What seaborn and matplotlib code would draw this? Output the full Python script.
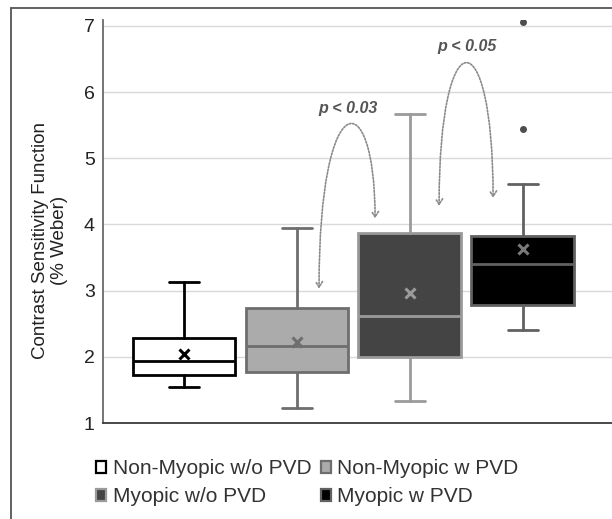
import matplotlib
matplotlib.use("Agg")
import matplotlib.pyplot as plt
import seaborn as sns
from matplotlib.patches import Patch, FancyArrowPatch
from matplotlib.path import Path
from matplotlib.lines import Line2D

# ---- data ----
groups = ["Non-Myopic w/o PVD", "Non-Myopic w PVD", "Myopic w/o PVD", "Myopic w PVD"]
whisker_low = [1.54, 1.22, 1.34, 2.41]
q1 = [1.73, 1.77, 2.00, 2.79]
medians = [1.94, 2.16, 2.62, 3.41]
q3 = [2.29, 2.74, 3.87, 3.83]
whisker_high = [3.13, 3.95, 5.67, 4.61]
means = [2.04, 2.23, 2.97, 3.63]
outliers = [[], [], [], [5.45, 7.06]]
y_ticks = [1, 2, 3, 4, 5, 6, 7]

# significance annotations
sig_labels = ["p < 0.03", "p < 0.05"]
sig_start = [(1.196, 3.03), (2.259, 4.28)]
sig_end = [(1.692, 4.09), (2.737, 4.40)]
sig_peak = [5.50, 6.44]

# ---- styles ----
fills = ["#ffffff", "#ababab", "#444444", "#000000"]
edges = ["#000000", "#6e6e6e", "#9a9a9a", "#616161"]
mean_colors = ["#000000", "#6e6e6e", "#9a9a9a", "#7a7a7a"]

sns.set_theme(style="white")
plt.rcParams["font.family"] = ["Liberation Sans", "DejaVu Sans"]

fig = plt.figure(figsize=(6.12, 5.19), dpi=100)
ax = fig.add_axes([103 / 612, 1 - 423 / 519, 509 / 612, 403 / 519])

for i in range(len(groups)):
    st = dict(med=medians[i], q1=q1[i], q3=q3[i], whislo=whisker_low[i],
              whishi=whisker_high[i], mean=means[i], fliers=outliers[i], label=groups[i])
    lw = 2.0
    ax.bxp([st], positions=[i], widths=0.91, patch_artist=True, showmeans=True,
           boxprops=dict(facecolor=fills[i], edgecolor=edges[i], linewidth=lw),
           medianprops=dict(color=edges[i], linewidth=lw),
           whiskerprops=dict(color=edges[i], linewidth=lw),
           capprops=dict(color=edges[i], linewidth=lw),
           capwidths=0.27,
           meanprops=dict(marker="x", markeredgecolor=mean_colors[i], markersize=6.5,
                          markeredgewidth=2.2),
           flierprops=dict(marker="o", markerfacecolor="#4d4d4d", markeredgecolor="#4d4d4d",
                           markersize=4),
           manage_ticks=False, zorder=3)

ax.set_xlim(-0.717, 3.79)
ax.set_ylim(1, 7.09)
ax.set_yticks(y_ticks)
ax.set_xticks([])
ax.yaxis.grid(True, color="#d9d9d9", linewidth=1.0, zorder=0)
ax.set_axisbelow(True)
for s in ["top", "right"]:
    ax.spines[s].set_visible(False)
ax.spines["left"].set_color("#6a6a6a")
ax.spines["left"].set_linewidth(1.3)
ax.spines["bottom"].set_color("#3a3a3a")
ax.spines["bottom"].set_linewidth(1.3)
ax.tick_params(axis="y", length=0, pad=6, labelsize=14, labelcolor="#222222")

ax.set_ylabel("Contrast Sensitivity Function\n(% Weber)", fontsize=13.5, color="#222222",
              va="center", ha="center", multialignment="center")
ax.yaxis.set_label_coords(-0.104, 0.454)

# significance arcs
for lab, (x0, y0), (x1, y1), peak in zip(sig_labels, sig_start, sig_end, sig_peak):
    h = (peak - 0.125 * (y0 + y1)) / 0.75
    path = Path([(x0, y0), (x0, h), (x1, h), (x1, y1)],
                [Path.MOVETO, Path.CURVE4, Path.CURVE4, Path.CURVE4])
    arr = FancyArrowPatch(path=path, arrowstyle="<->,head_length=4,head_width=2.5",
                          linestyle=(0, (1, 1)), color="#8a8a8a", linewidth=1.2,
                          zorder=4)
    ax.add_patch(arr)
    ax.text((x0 + x1) / 2 + 0.01, peak + 0.25, lab, fontsize=11.5, fontweight="bold",
            fontstyle="italic", color="#555555", ha="center", va="center")

# legend
handles = [Patch(facecolor=fills[i], edgecolor=edges[i] if i != 0 else "#000000",
                 linewidth=1.6, label=groups[i]) for i in range(4)]
order = [0, 2, 1, 3]
leg = fig.legend([handles[k] for k in order], [groups[k] for k in order], ncol=2,
                 loc="upper left", bbox_to_anchor=(96 / 612, 1 - 459 / 519), frameon=False,
                 fontsize=15, handlelength=0.5, handleheight=0.5, handletextpad=0.3,
                 columnspacing=0.45, labelspacing=0.45, borderaxespad=0, borderpad=0)
for t in leg.get_texts():
    t.set_color("#333333")

# outer frame (left and top visible)
fig.add_artist(Line2D([11 / 612, 11 / 612], [0, 1 - 8 / 519], transform=fig.transFigure,
                      color="#555555", linewidth=1.3))
fig.add_artist(Line2D([11 / 612, 1], [1 - 8 / 519, 1 - 8 / 519], transform=fig.transFigure,
                      color="#555555", linewidth=1.3))

fig.savefig("out.png", dpi=100)
